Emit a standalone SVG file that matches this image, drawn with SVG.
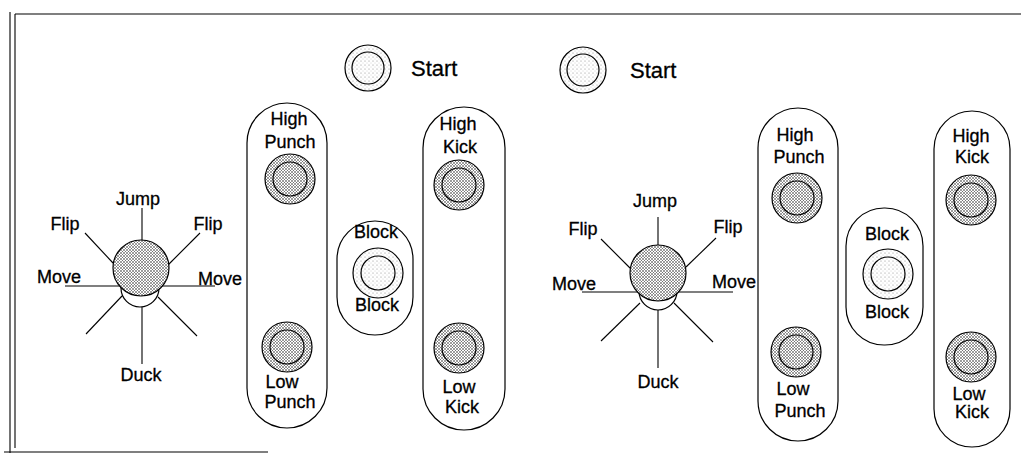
<svg xmlns="http://www.w3.org/2000/svg" width="1021" height="454" viewBox="0 0 1021 454">
<defs>
<pattern id="dense" width="3" height="3" patternUnits="userSpaceOnUse">
<rect width="3" height="3" fill="#fff"/>
<circle cx="1" cy="1" r="0.8" fill="#222"/>
<circle cx="2.5" cy="2.5" r="0.55" fill="#555"/>
</pattern>
<pattern id="light" width="4" height="4" patternUnits="userSpaceOnUse">
<rect width="4" height="4" fill="#fff"/>
<circle cx="1" cy="1" r="0.55" fill="#888"/>
<circle cx="3" cy="3" r="0.45" fill="#aaa"/>
</pattern>
</defs>
<style>
text{font-family:"Liberation Sans",Arial,sans-serif;font-size:18px;fill:#000;stroke:#000;stroke-width:0.3;text-anchor:middle}
.big{font-size:22px;text-anchor:start}
.ln{stroke:#000;stroke-width:1.1;fill:none}
.cap{fill:#fff;stroke:#000;stroke-width:1.2}
.dk{fill:url(#dense);stroke:#000;stroke-width:1.2}
.lt{fill:url(#light);stroke:#000;stroke-width:1.2}
.base{fill:#fff;stroke:#000;stroke-width:1.2}
</style>
<rect width="1021" height="454" fill="#fff"/>
<g id="frame" class="ln">
<line x1="10" y1="12" x2="10" y2="453"/>
<line x1="15" y1="14" x2="15" y2="448"/>
<line x1="15" y1="14" x2="1021" y2="14"/>
<line x1="4" y1="452" x2="268" y2="452"/>
</g>
<g id="connectors" class="ln">
<line x1="142" y1="208" x2="142" y2="240"/>
<line x1="85" y1="233" x2="113" y2="263"/>
<line x1="200" y1="233" x2="168" y2="265"/>
<line x1="65" y1="286" x2="215" y2="286"/>
<line x1="86" y1="334" x2="122" y2="296"/>
<line x1="197" y1="336" x2="158" y2="297"/>
<line x1="142" y1="307" x2="142" y2="364"/>
<line x1="658" y1="217" x2="658" y2="245"/>
<line x1="601" y1="239" x2="630" y2="268"/>
<line x1="716" y1="238" x2="686" y2="267"/>
<line x1="582" y1="292" x2="733" y2="292"/>
<line x1="601" y1="341" x2="640" y2="303"/>
<line x1="713" y1="342" x2="674" y2="303"/>
<line x1="658" y1="310" x2="658" y2="368"/>
</g>
<g id="joystick-left">
<circle class="base" cx="140" cy="288" r="19"/>
<circle class="dk" cx="141" cy="268" r="28"/>
<text x="138" y="205">Jump</text>
<text x="65" y="230">Flip</text>
<text x="208" y="230">Flip</text>
<text x="59" y="283">Move</text>
<text x="220" y="285">Move</text>
<text x="141" y="381">Duck</text>
</g>
<g id="start-left">
<circle class="lt" cx="368" cy="68" r="23"/>
<circle class="lt" cx="368" cy="68" r="16"/>
<text class="big" x="411" y="76">Start</text>
</g>
<g id="punch-left">
<rect class="cap" x="247" y="103" width="80" height="325" rx="40"/>
<text x="289" y="125">High</text>
<text x="290" y="148">Punch</text>
<circle class="dk" cx="290" cy="179" r="25"/>
<circle class="dk" cx="290" cy="179" r="17"/>
<circle class="dk" cx="287" cy="347" r="25"/>
<circle class="dk" cx="287" cy="347" r="17"/>
<text x="282" y="388">Low</text>
<text x="290" y="408">Punch</text>
</g>
<g id="block-left">
<rect class="cap" x="337" y="221" width="76" height="114" rx="38"/>
<text x="376" y="238">Block</text>
<circle class="lt" cx="378" cy="273" r="25"/>
<circle class="lt" cx="378" cy="273" r="17"/>
<text x="377" y="311">Block</text>
</g>
<g id="kick-left">
<rect class="cap" x="423" y="107" width="82" height="323" rx="41"/>
<text x="458" y="130">High</text>
<text x="460" y="153">Kick</text>
<circle class="dk" cx="459" cy="185" r="25"/>
<circle class="dk" cx="459" cy="185" r="17"/>
<circle class="dk" cx="459" cy="348" r="25"/>
<circle class="dk" cx="459" cy="348" r="17"/>
<text x="459" y="393">Low</text>
<text x="462" y="413">Kick</text>
</g>
<g id="joystick-right">
<circle class="base" cx="658" cy="291" r="19"/>
<circle class="dk" cx="658" cy="273" r="28"/>
<text x="655" y="207">Jump</text>
<text x="583" y="235">Flip</text>
<text x="728" y="233">Flip</text>
<text x="574" y="290">Move</text>
<text x="734" y="288">Move</text>
<text x="658" y="388">Duck</text>
</g>
<g id="start-right">
<circle class="lt" cx="583" cy="70" r="23"/>
<circle class="lt" cx="583" cy="70" r="16"/>
<text class="big" x="630" y="78">Start</text>
</g>
<g id="punch-right">
<rect class="cap" x="758" y="108" width="80" height="333" rx="40"/>
<text x="795" y="141">High</text>
<text x="799" y="163">Punch</text>
<circle class="dk" cx="797" cy="198" r="25"/>
<circle class="dk" cx="797" cy="198" r="17"/>
<circle class="dk" cx="796" cy="352" r="25"/>
<circle class="dk" cx="796" cy="352" r="17"/>
<text x="793" y="395">Low</text>
<text x="800" y="417">Punch</text>
</g>
<g id="block-right">
<rect class="cap" x="846" y="208" width="77" height="137" rx="38"/>
<text x="887" y="240">Block</text>
<circle class="lt" cx="888" cy="274" r="25"/>
<circle class="lt" cx="888" cy="274" r="17"/>
<text x="887" y="318">Block</text>
</g>
<g id="kick-right">
<rect class="cap" x="934" y="111" width="76" height="336" rx="38"/>
<text x="971" y="142">High</text>
<text x="972" y="163">Kick</text>
<circle class="dk" cx="971" cy="200" r="25"/>
<circle class="dk" cx="971" cy="200" r="17"/>
<circle class="dk" cx="971" cy="357" r="25"/>
<circle class="dk" cx="971" cy="357" r="17"/>
<text x="969" y="400">Low</text>
<text x="972" y="418">Kick</text>
</g>
</svg>
